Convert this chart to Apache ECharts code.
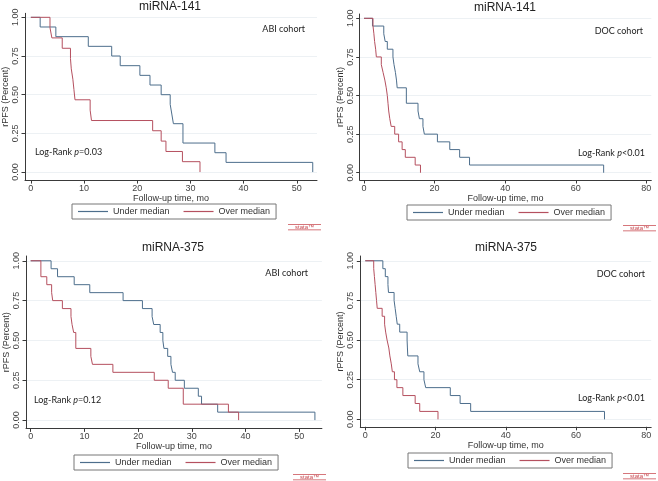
<!DOCTYPE html>
<html>
<head>
<meta charset="utf-8">
<script src="https://cdn.jsdelivr.net/npm/echarts@6/dist/echarts.min.js"></script>
<style>
  html, body { margin: 0; padding: 0; background: #fff; }
  #main { width: 658px; height: 481px; }
</style>
</head>
<body>
<div id="main"></div>
<script>
// panel texts
const panelTitles = ['miRNA-141', 'miRNA-141', 'miRNA-375', 'miRNA-375']
const cohortNames = ['ABI cohort', 'DOC cohort', 'ABI cohort', 'DOC cohort']
const logRankOps = ['=', '<', '=', '<']
const logRankVals = ['0.03', '0.01', '0.12', '0.01']
const seriesNames = ['Under median', 'Over median']

// tick labels
const yTicks = [0, 0.25, 0.5, 0.75, 1]
const xTicksABI = [0, 10, 20, 30, 40, 50]
const xTicksDOC = [0, 20, 40, 60, 80]

// KM curves: time of each step, survival after that step
// ABI cohort, miRNA-141
const abi141UnderT = [0, 1.75, 4.7, 10.8, 15.2, 16.8, 20.5, 22.4, 24.5, 26.2, 26.5, 26.8, 28.6, 34.6, 36.7, 53]
const abi141UnderS = [1, 0.9375, 0.875, 0.8125, 0.75, 0.6875, 0.625, 0.5625, 0.5, 0.4375, 0.375, 0.3125, 0.1875, 0.125, 0.0625, 0]
const abi141OverT = [0, 3.6, 3.95, 5.9, 7.45, 7.6, 7.9, 8.1, 8.3, 11.15, 11.4, 22.9, 24.5, 25.4, 28.5, 31.8]
const abi141OverS = [1, 0.933, 0.867, 0.8, 0.733, 0.667, 0.6, 0.533, 0.467, 0.4, 0.333, 0.267, 0.2, 0.133, 0.067, 0]
// DOC cohort, miRNA-141
const doc141UnderT = [0, 2.4, 5.6, 6.0, 6.6, 8.2, 8.5, 8.9, 9.2, 9.4, 12.0, 15.3, 15.7, 16.7, 17.1, 20.8, 24.3, 27.1, 29.9, 67.9]
const doc141UnderS = [1, 0.95, 0.9, 0.85, 0.8, 0.75, 0.7, 0.65, 0.6, 0.55, 0.45, 0.4, 0.35, 0.3, 0.25, 0.2, 0.15, 0.1, 0.05, 0]
const doc141OverT = [0, 2.55, 2.8, 3.0, 3.3, 3.5, 4.9, 5.4, 5.9, 6.3, 6.6, 6.8, 7.0, 7.3, 7.7, 8.7, 9.8, 10.8, 11.7, 14.5, 16.0]
const doc141OverS = [1, 0.95, 0.9, 0.85, 0.8, 0.75, 0.7, 0.65, 0.6, 0.55, 0.5, 0.45, 0.4, 0.35, 0.3, 0.25, 0.2, 0.15, 0.1, 0.05, 0]
// ABI cohort, miRNA-375
const abi375UnderT = [0, 3.8, 5.0, 8.1, 11.0, 17.2, 20.8, 22.6, 22.9, 24.1, 24.6, 24.8, 25.5, 26.1, 26.4, 26.9, 28.6, 31.2, 31.8, 34.8, 52.9]
const abi375UnderS = [1, 0.95, 0.9, 0.85, 0.8, 0.75, 0.7, 0.65, 0.6, 0.55, 0.5, 0.45, 0.4, 0.35, 0.3, 0.25, 0.2, 0.15, 0.1, 0.05, 0]
const abi375OverT = [0, 1.9, 3.0, 3.9, 4.1, 5.9, 7.5, 7.7, 8.0, 8.4, 11.2, 11.5, 15.3, 23.0, 25.6, 28.4, 36.8, 38.7]
const abi375OverS = [1, 0.9, 0.85, 0.8, 0.75, 0.7, 0.65, 0.6, 0.55, 0.45, 0.4, 0.35, 0.3, 0.25, 0.2, 0.1, 0.05, 0]
// DOC cohort, miRNA-375
const doc375UnderT = [0, 5.0, 5.7, 6.45, 6.6, 8.2, 8.5, 8.8, 9.1, 9.8, 11.9, 12.0, 12.1, 15.0, 15.5, 16.7, 17.2, 24.2, 27.0, 30.0, 68.1]
const doc375UnderS = [1, 0.95, 0.9, 0.85, 0.8, 0.75, 0.7, 0.65, 0.6, 0.55, 0.5, 0.45, 0.4, 0.35, 0.3, 0.25, 0.2, 0.15, 0.1, 0.05, 0]
const doc375OverT = [0, 2.4, 2.6, 2.8, 3.0, 3.2, 3.4, 4.8, 5.5, 5.8, 6.2, 6.7, 7.0, 7.4, 7.7, 8.3, 9.0, 10.7, 14.2, 15.5, 20.7]
const doc375OverS = [1, 0.95, 0.9, 0.85, 0.8, 0.75, 0.7, 0.65, 0.6, 0.55, 0.5, 0.45, 0.4, 0.35, 0.3, 0.25, 0.2, 0.15, 0.1, 0.05, 0]

const curves = [
  [[abi141UnderT, abi141UnderS], [abi141OverT, abi141OverS]],
  [[doc141UnderT, doc141UnderS], [doc141OverT, doc141OverS]],
  [[abi375UnderT, abi375UnderS], [abi375OverT, abi375OverS]],
  [[doc375UnderT, doc375UnderS], [doc375OverT, doc375OverS]]
]
const xTicks = [xTicksABI, xTicksDOC, xTicksABI, xTicksDOC]

// layout of each panel (pixels)
const layout = [
  { grid: { left: 25, top: 13.3, width: 292, height: 166.8 }, xr: [-1.1, 53.8], yr: [-0.052, 1.026],
    title: [170, 7], cohort: [305, 29], rank: [35, 152, 'left'], legend: [72, 204], logo: [288, 224] },
  { grid: { left: 359.7, top: 14, width: 291.6, height: 166 }, xr: [-1.22, 81.4], yr: [-0.047, 1.028],
    title: [505, 8], cohort: [643, 31], rank: [645, 153, 'right'], legend: [407, 205], logo: [623, 225] },
  { grid: { left: 26, top: 256, width: 295.9, height: 172.4 }, xr: [-0.87, 54.2], yr: [-0.052, 1.03],
    title: [173, 247.5], cohort: [308, 273], rank: [34, 400, 'left'], legend: [74, 455], logo: [293, 474] },
  { grid: { left: 360.3, top: 256, width: 290.9, height: 170.8 }, xr: [-1.42, 81.4], yr: [-0.047, 1.03],
    title: [506, 248], cohort: [645, 274], rank: [645, 398, 'right'], legend: [408, 453], logo: [623, 473] }
]

const colors = ['#4d6e8c', '#b5505f']
const axisColor = '#3a3a3a'
const font = '"Liberation Sans", Arial, sans-serif'

const grids = [], xAxes = [], yAxes = [], series = [], legends = [], graphics = []

layout.forEach((p, i) => {
  grids.push(p.grid)
  xAxes.push({
    type: 'value', gridIndex: i, min: p.xr[0], max: p.xr[1],
    name: 'Follow-up time, mo', nameLocation: 'middle', nameGap: 11,
    nameTextStyle: { fontFamily: font, fontSize: 9, color: '#333' },
    axisLine: { show: true, onZero: false, lineStyle: { color: axisColor, width: 1 } },
    axisTick: { show: true, length: 3.5, customValues: xTicks[i], lineStyle: { color: axisColor } },
    axisLabel: { customValues: xTicks[i], margin: 4, fontFamily: font, fontSize: 9, color: '#444' },
    splitLine: { show: false }
  })
  yAxes.push({
    type: 'value', gridIndex: i, min: p.yr[0], max: p.yr[1],
    name: 'rPFS (Percent)', nameLocation: 'middle', nameGap: 15,
    nameTextStyle: { fontFamily: font, fontSize: 9, color: '#333' },
    axisLine: { show: true, onZero: false, lineStyle: { color: axisColor, width: 1 } },
    axisTick: { show: true, length: 3.5, customValues: yTicks, lineStyle: { color: axisColor } },
    axisLabel: { customValues: yTicks, rotate: 90, margin: 5, fontFamily: font, fontSize: 9, color: '#444',
      formatter: v => v.toFixed(2) },
    splitLine: { show: true, lineStyle: { color: '#edf1f4', width: 1 } }
  })
  curves[i].forEach((c, k) => {
    series.push({
      name: seriesNames[k], type: 'line', step: 'end',
      xAxisIndex: i, yAxisIndex: i,
      showSymbol: false, symbol: 'none',
      lineStyle: { color: colors[k], width: 1 },
      itemStyle: { color: colors[k] },
      data: c[0].map((t, j) => [t, c[1][j]])
    })
  })
  legends.push({
    left: p.legend[0], top: p.legend[1], orient: 'horizontal',
    data: seriesNames, icon: 'rect', itemWidth: 30, itemHeight: 1.2, itemGap: 14,
    padding: [3, 6], borderColor: '#777', borderWidth: 1,
    textStyle: { fontFamily: font, fontSize: 9, color: '#333' },
    selectedMode: false
  })
  // panel title
  graphics.push({
    type: 'text', x: p.title[0], y: p.title[1],
    style: { text: panelTitles[i], font: '12px ' + font, fill: '#222', align: 'center', verticalAlign: 'middle' }
  })
  // cohort label
  graphics.push({
    type: 'text', x: p.cohort[0], y: p.cohort[1],
    style: { text: cohortNames[i], font: '9px Lato, "Open Sans", sans-serif', fill: '#222', align: 'right', verticalAlign: 'middle' }
  })
  // log-rank label
  graphics.push({
    type: 'text', x: p.rank[0], y: p.rank[1],
    style: {
      text: '{a|Log-Rank }{b|p}{a|' + logRankOps[i] + logRankVals[i] + '}',
      align: p.rank[2], verticalAlign: 'middle',
      rich: {
        a: { fontFamily: 'Lato, "Open Sans", sans-serif', fontSize: 9, fill: '#222' },
        b: { fontFamily: 'Lato, "Open Sans", sans-serif', fontSize: 9, fontStyle: 'italic', fill: '#222' }
      }
    }
  })
  // stata logo
  graphics.push({
    type: 'group', x: p.logo[0], y: p.logo[1],
    children: [
      { type: 'rect', shape: { x: 0, y: 0, width: 33, height: 0.8 }, style: { fill: '#c8484f' } },
      { type: 'text', x: 16.5, y: 3, style: { text: 'stata™', font: '6px ' + font, fill: '#c8484f', align: 'center', verticalAlign: 'middle' } },
      { type: 'rect', shape: { x: 0, y: 5.5, width: 33, height: 0.8 }, style: { fill: '#c8484f' } }
    ]
  })
})

const chart = echarts.init(document.getElementById('main'))
chart.setOption({
  animation: false,
  backgroundColor: '#fff',
  grid: grids,
  xAxis: xAxes,
  yAxis: yAxes,
  series: series,
  legend: legends,
  graphic: graphics
})
</script>
</body>
</html>
